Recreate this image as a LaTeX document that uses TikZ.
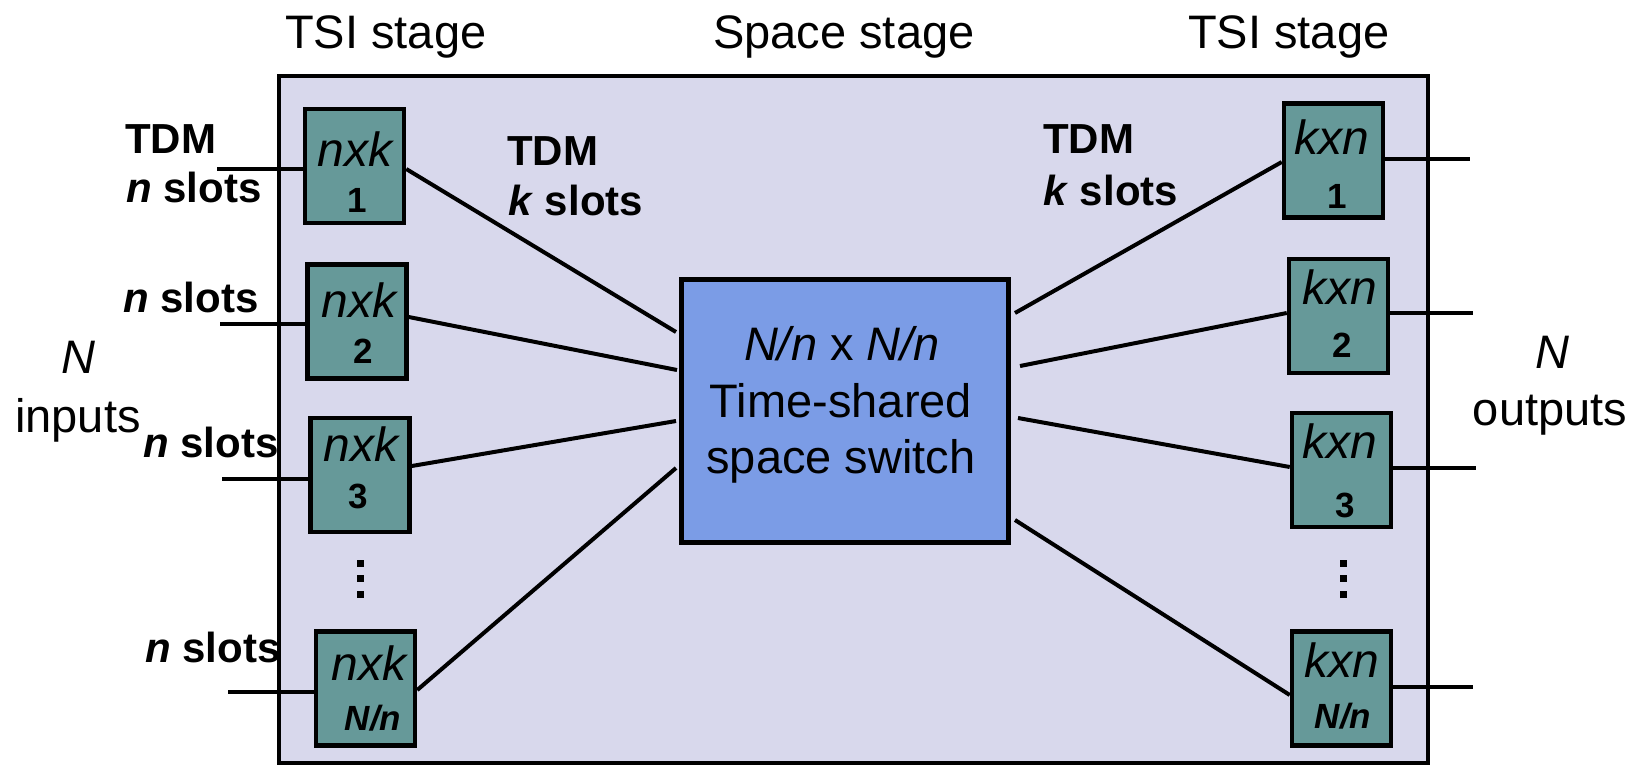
\documentclass[tikz,border=0pt]{standalone}
\usepackage{fontspec}
\setmainfont{Liberation Sans}
\usetikzlibrary{calc}
\definecolor{bgfill}{RGB}{216,216,236}
\definecolor{tsifill}{RGB}{102,153,153}
\definecolor{swfill}{RGB}{123,156,230}
\tikzset{
  tsibox/.style={draw=black, fill=tsifill, line width=4.5pt, minimum width=99pt, minimum height=114pt, inner sep=0pt},
  swbox/.style={draw=black, fill=swfill, line width=5pt, minimum width=327pt, minimum height=263pt, inner sep=0pt},
  framebox/.style={draw=black, fill=bgfill, line width=4pt, minimum width=1149pt, minimum height=686.5pt, inner sep=0pt},
  wire/.style={line width=4pt},
  lbl/.style={inner sep=0pt, font=\fontsize{47}{56}\selectfont},
  blbl/.style={inner sep=0pt, anchor=base west, font=\fontsize{42}{48}\selectfont\bfseries},
  boxname/.style={inner sep=0pt, anchor=base, font=\fontsize{48}{54}\selectfont\itshape},
  boxnum/.style={inner sep=0pt, anchor=base, font=\fontsize{35}{40}\selectfont\bfseries},
}
\begin{document}
\begin{tikzpicture}[x=1pt,y=-1pt]
\useasboundingbox (0,0) rectangle (1639,764);
\node[framebox] (frame) at (853.5,419.25) {};

% stage titles
\node[lbl, anchor=base west] (t1) at (285,48) {TSI stage};
\node[lbl, anchor=base west] (t2) at (713,48) {Space stage};
\node[lbl, anchor=base west] (t3) at (1188,48) {TSI stage};

% free ends of inputs/outputs
\coordinate (in1) at (217,169);
\coordinate (in2) at (220,324);
\coordinate (in3) at (222,479);
\coordinate (in4) at (228,692);
\coordinate (out1) at (1470,159);
\coordinate (out2) at (1473,313);
\coordinate (out3) at (1476,468);
\coordinate (out4) at (1473,687);

% boxes
\node[tsibox] (L1) at (354.5,166) {};
\node[tsibox] (L2) at (357,321.5) {};
\node[tsibox] (L3) at (360,475) {};
\node[tsibox] (L4) at (365.5,688.5) {};
\node[tsibox] (R1) at (1333.5,160.5) {};
\node[tsibox] (R2) at (1338.5,316) {};
\node[tsibox] (R3) at (1341.5,470) {};
\node[tsibox] (R4) at (1341.5,688.5) {};
\node[swbox] (S) at (845,411) {};

% input / output wires
\draw[wire] (in1) -- (in1 -| L1.west);
\draw[wire] (in2) -- (in2 -| L2.west);
\draw[wire] (in3) -- (in3 -| L3.west);
\draw[wire] (in4) -- (in4 -| L4.west);
\draw[wire] (out1 -| R1.east) -- (out1);
\draw[wire] (out2 -| R2.east) -- (out2);
\draw[wire] (out3 -| R3.east) -- (out3);
\draw[wire] (out4 -| R4.east) -- (out4);

% connectors to the space switch
\draw[wire] ($(L1.east)+(0,3)$) -- ($(S.west)+(-3,-79)$);
\draw[wire] ($(L2.east)+(0,-4.5)$) -- ($(S.west)+(-2,-41)$);
\draw[wire] ($(L3.east)+(0,-9)$) -- ($(S.west)+(-3,10)$);
\draw[wire] ($(L4.east)+(0,1.5)$) -- ($(S.west)+(-3,57)$);
\draw[wire] ($(S.east)+(4,-98)$) -- ($(R1.west)+(0,1.5)$);
\draw[wire] ($(S.east)+(9,-45)$) -- ($(R2.west)+(0,-3)$);
\draw[wire] ($(S.east)+(7,7)$) -- ($(R3.west)+(0,-3)$);
\draw[wire] ($(S.east)+(4,109)$) -- ($(R4.west)+(0,6.5)$);

% box texts
\node[boxname] (L1a) at ($(L1.center)+(0.5,0)$) {nxk};
\node[boxnum]  (L1b) at ($(L1.center)+(2.5,46)$) {1};
\node[boxname] (L2a) at ($(L2.center)+(2,-4.5)$) {nxk};
\node[boxnum]  (L2b) at ($(L2.center)+(6,41.5)$) {2};
\node[boxname] (L3a) at ($(L3.center)+(1,-14)$) {nxk};
\node[boxnum]  (L3b) at ($(L3.center)+(-2,33)$) {3};
\node[boxname] (L4a) at ($(L4.center)+(3.5,-8.5)$) {nxk};
\node[boxnum]  (L4b) at ($(L4.center)+(7.5,41.5)$) {\itshape N/n};
\node[boxname] (R1a) at ($(R1.center)+(-1.5,-6.5)$) {kxn};
\node[boxnum]  (R1b) at ($(R1.center)+(3.5,47.5)$) {1};
\node[boxname] (R2a) at ($(R2.center)+(1.5,-12)$) {kxn};
\node[boxnum]  (R2b) at ($(R2.center)+(3.5,41)$) {2};
\node[boxname] (R3a) at ($(R3.center)+(-1.5,-12)$) {kxn};
\node[boxnum]  (R3b) at ($(R3.center)+(3.5,47)$) {3};
\node[boxname] (R4a) at ($(R4.center)+(0.5,-11.5)$) {kxn};
\node[boxnum]  (R4b) at ($(R4.center)+(1.5,39.5)$) {\itshape N/n};

% space switch text
\node[lbl, anchor=base] (S1) at ($(S.center)+(-3,-51)$) {\textit{N/n} x \textit{N/n}};
\node[lbl, anchor=base] (S2) at ($(S.center)+(-4,6)$) {Time-shared};
\node[lbl, anchor=base] (S3) at ($(S.center)+(-4,62)$) {space switch};

% dots
\foreach \yy in {563.5,578.5,594} {
  \fill (356.5,\yy-3.5) rectangle (363.5,\yy+3.5);
  \fill (1340,\yy-3.5) rectangle (1347,\yy+3.5);
}

% side labels
\node[blbl] (a1) at (125,153) {TDM};
\node[blbl] (a2) at (126,202) {\textit{n} slots};
\node[blbl] (a3) at (123,312) {\textit{n} slots};
\node[blbl] (a4) at (143,457) {\textit{n} slots};
\node[blbl] (a5) at (145,662) {\textit{n} slots};
\node[blbl] (b1) at (507,165) {TDM};
\node[blbl] (b2) at (508,215) {\textit{k} slots};
\node[blbl] (c1) at (1043,153) {TDM};
\node[blbl] (c2) at (1043,205) {\textit{k} slots};

\node[lbl, anchor=base] (n1) at (78,373) {\textit{N}};
\node[lbl, anchor=base] (n2) at (78,432) {inputs};
\node[lbl, anchor=base] (m1) at (1552,368) {\textit{N}};
\node[lbl, anchor=base] (m2) at (1550,425) {outputs};
\end{tikzpicture}
\end{document}
